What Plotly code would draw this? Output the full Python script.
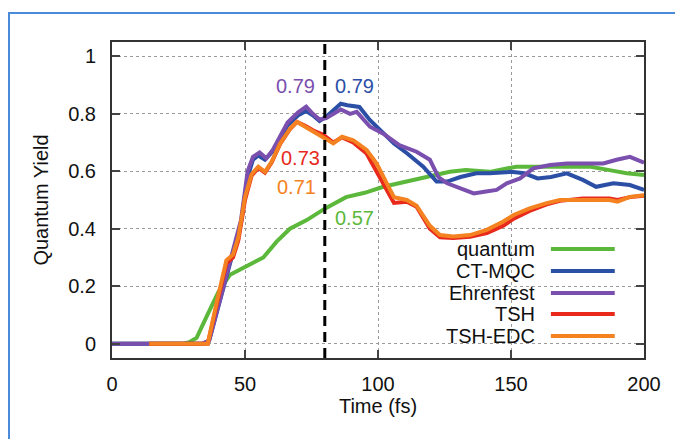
import plotly.graph_objects as go

# ---------------- data ----------------
t_quantum = [0, 27, 29, 31.8, 35.6, 40, 44.4, 50.6, 56.9, 61.9, 66.9, 73.2, 80, 88, 95, 102,
             109, 118, 127, 133, 142, 152, 160, 170, 180, 187, 193.5, 200]
y_quantum = [0, 0, 0.005, 0.02, 0.095, 0.18, 0.24, 0.27, 0.30, 0.355, 0.40, 0.43, 0.47, 0.51,
             0.525, 0.546, 0.56, 0.58, 0.598, 0.604, 0.598, 0.616, 0.616, 0.614, 0.616, 0.604,
             0.593, 0.587]

t_ctmqc = [0, 34, 36.5, 40.6, 44.4, 46.5, 48.5, 51, 53, 55, 57.5, 60.5, 63, 66, 70, 73, 75.5,
           78, 80.5, 83, 86, 88.5, 93, 97, 101, 106, 111, 117, 122, 126, 131, 137, 142, 150,
           155, 160, 165, 171, 177, 182, 188.5, 194.7, 200]
y_ctmqc = [0, 0, 0.01, 0.15, 0.28, 0.34, 0.42, 0.58, 0.64, 0.655, 0.64, 0.67, 0.71, 0.76,
           0.795, 0.81, 0.795, 0.775, 0.79, 0.81, 0.835, 0.83, 0.824, 0.778, 0.743, 0.697,
           0.662, 0.616, 0.564, 0.564, 0.58, 0.593, 0.593, 0.598, 0.593, 0.575, 0.58, 0.593,
           0.57, 0.546, 0.558, 0.552, 0.535]

t_ehrenfest = [0, 34, 36.5, 40.6, 44.4, 46.5, 48.5, 51, 53, 55.5, 58, 60.5, 63, 66, 70, 73,
               75.5, 78, 80.5, 83, 86, 89.5, 92, 97, 102, 108, 114.5, 119.5, 122.7, 126, 131,
               136, 140, 144.6, 148.4, 153.4, 158.4, 164.7, 171, 177, 184.7, 189.7, 194.7, 200]
y_ehrenfest = [0, 0, 0.01, 0.15, 0.28, 0.35, 0.43, 0.60, 0.65, 0.665, 0.645, 0.675, 0.72,
               0.77, 0.805, 0.825, 0.80, 0.78, 0.785, 0.80, 0.815, 0.80, 0.807, 0.755, 0.731,
               0.691, 0.668, 0.64, 0.58, 0.558, 0.54, 0.523, 0.529, 0.535, 0.558, 0.575, 0.61,
               0.622, 0.627, 0.627, 0.627, 0.64, 0.65, 0.63]

t_tsh = [14, 36, 39.5, 43, 45.5, 47.5, 50, 52.5, 55, 57.5, 60, 63.2, 67, 69.5, 72.6, 75.7,
         79.4, 83.2, 86.5, 90.7, 95.7, 99.5, 103.3, 106, 110.8, 114.5, 119.5, 123.3, 128.3,
         134.6, 140.9, 147.1, 151, 157, 163.4, 168.4, 177, 187, 190, 194.7, 200]
y_tsh = [0, 0, 0.14, 0.28, 0.30, 0.36, 0.50, 0.585, 0.612, 0.595, 0.63, 0.695, 0.748, 0.772,
         0.758, 0.742, 0.727, 0.70, 0.718, 0.70, 0.662, 0.60, 0.54, 0.49, 0.494, 0.477, 0.40,
         0.37, 0.368, 0.372, 0.385, 0.41, 0.435, 0.462, 0.485, 0.497, 0.505, 0.505, 0.50,
         0.51, 0.515]

t_tshedc = [14, 36, 39.5, 43, 45.5, 47.5, 50, 52.5, 55, 57.5, 60, 63.2, 67, 69.5, 72.6, 75.7,
            79.4, 83.2, 86.5, 90.7, 95.7, 99.5, 103.3, 106, 110.8, 114.5, 119.5, 123.3, 128.3,
            134.6, 140.9, 147.1, 151, 157, 163.4, 168.4, 177, 187, 190, 194.7, 200]
y_tshedc = [0, 0, 0.15, 0.29, 0.31, 0.37, 0.51, 0.59, 0.616, 0.598, 0.633, 0.697, 0.749, 0.772,
            0.755, 0.737, 0.715, 0.697, 0.72, 0.708, 0.674, 0.627, 0.558, 0.51, 0.50, 0.48,
            0.41, 0.378, 0.373, 0.378, 0.396, 0.425, 0.448, 0.471, 0.489, 0.50, 0.50, 0.50,
            0.494, 0.511, 0.517]

series_names = ["quantum", "CT-MQC", "Ehrenfest", "TSH", "TSH-EDC"]
series_colors = ["#5cb83a", "#2c4fa6", "#7a4fae", "#e8291c", "#f58220"]
series_t = [t_quantum, t_ctmqc, t_ehrenfest, t_tsh, t_tshedc]
series_y = [y_quantum, y_ctmqc, y_ehrenfest, y_tsh, y_tshedc]

marker_time = 80
label_texts = ["0.79", "0.79", "0.73", "0.71", "0.57"]
label_colors = ["#7a4fae", "#2c4fa6", "#e8291c", "#f58220", "#5cb83a"]
label_x = [77.2, 83.1, 79.0, 77.4, 83.1]
label_y = [0.898, 0.896, 0.646, 0.547, 0.436]
label_anchor = ["right", "left", "right", "right", "left"]

x_ticks = [0, 50, 100, 150, 200]
y_ticks = [0, 0.2, 0.4, 0.6, 0.8, 1]
y_ticklabels = ["0", "0.2", "0.4", "0.6", "0.8", "1"]

# ---------------- figure ----------------
FONT = "Liberation Sans, Arial, Helvetica, sans-serif"
TXT = "#111111"
fig = go.Figure()
for name, col, tt, yy in zip(series_names, series_colors, series_t, series_y):
    fig.add_trace(go.Scatter(x=tt, y=yy, mode="lines", name=name,
                             line=dict(color=col, width=4), showlegend=False))

# dashed reference line
fig.add_shape(type="line", xref="x", yref="paper", x0=marker_time, x1=marker_time, y0=0, y1=1,
              line=dict(color="black", width=3, dash="10px,6px"), layer="above")

# value annotations
for txt, col, xx, yy, anc in zip(label_texts, label_colors, label_x, label_y, label_anchor):
    fig.add_annotation(x=xx, y=yy, text=txt, showarrow=False, xanchor=anc, yanchor="middle",
                       font=dict(family=FONT, size=20, color=col))

# legend box (gnuplot-style: text right-aligned, sample to the right)
fig.add_shape(type="rect", xref="paper", yref="paper", x0=0.575, x1=0.995, y0=0.003, y1=0.38,
              fillcolor="white", line=dict(width=0), layer="between")
leg_y = [0.345, 0.275, 0.206, 0.139, 0.07]
for name, col, ly in zip(series_names, series_colors, leg_y):
    fig.add_annotation(xref="paper", yref="paper", x=0.799, y=ly, text=name, showarrow=False,
                       xanchor="right", yanchor="middle",
                       font=dict(family=FONT, size=20, color=TXT))
    fig.add_shape(type="line", xref="paper", yref="paper", x0=0.825, x1=0.945, y0=ly, y1=ly,
                  line=dict(color=col, width=4))

# outer light-blue frame
fig.add_shape(type="rect", xref="paper", yref="paper", x0=-0.1936, x1=1.3, y0=-0.6, y1=1.0918,
              line=dict(color="#4a8ad8", width=2), fillcolor="rgba(0,0,0,0)", layer="below")

axis_common = dict(showline=True, linecolor="#333333", linewidth=2, mirror="ticks",
                   ticks="inside", ticklen=8, tickwidth=2, tickcolor="#444444",
                   showgrid=True, gridcolor="#9a9a9a", griddash="dot", gridwidth=1,
                   zeroline=False, tickfont=dict(family=FONT, size=20, color=TXT))

fig.update_xaxes(range=[0, 200], tickvals=x_ticks, ticklabelstandoff=7,
                 title=dict(text="Time (fs)", standoff=4,
                            font=dict(family=FONT, size=20, color=TXT)),
                 **axis_common)
fig.update_yaxes(range=[-0.05, 1.05], tickvals=y_ticks, ticktext=y_ticklabels,
                 ticklabelstandoff=10,
                 title=dict(text="Quantum Yield", standoff=14,
                            font=dict(family=FONT, size=20, color=TXT)),
                 **axis_common)

# the page body adds an 8 px offset, so the margins are shifted by that amount
fig.update_layout(width=683, height=439, margin=dict(l=104, r=47, t=34, b=89),
                  paper_bgcolor="white", plot_bgcolor="white", showlegend=False)

fig.write_html("out.html")
